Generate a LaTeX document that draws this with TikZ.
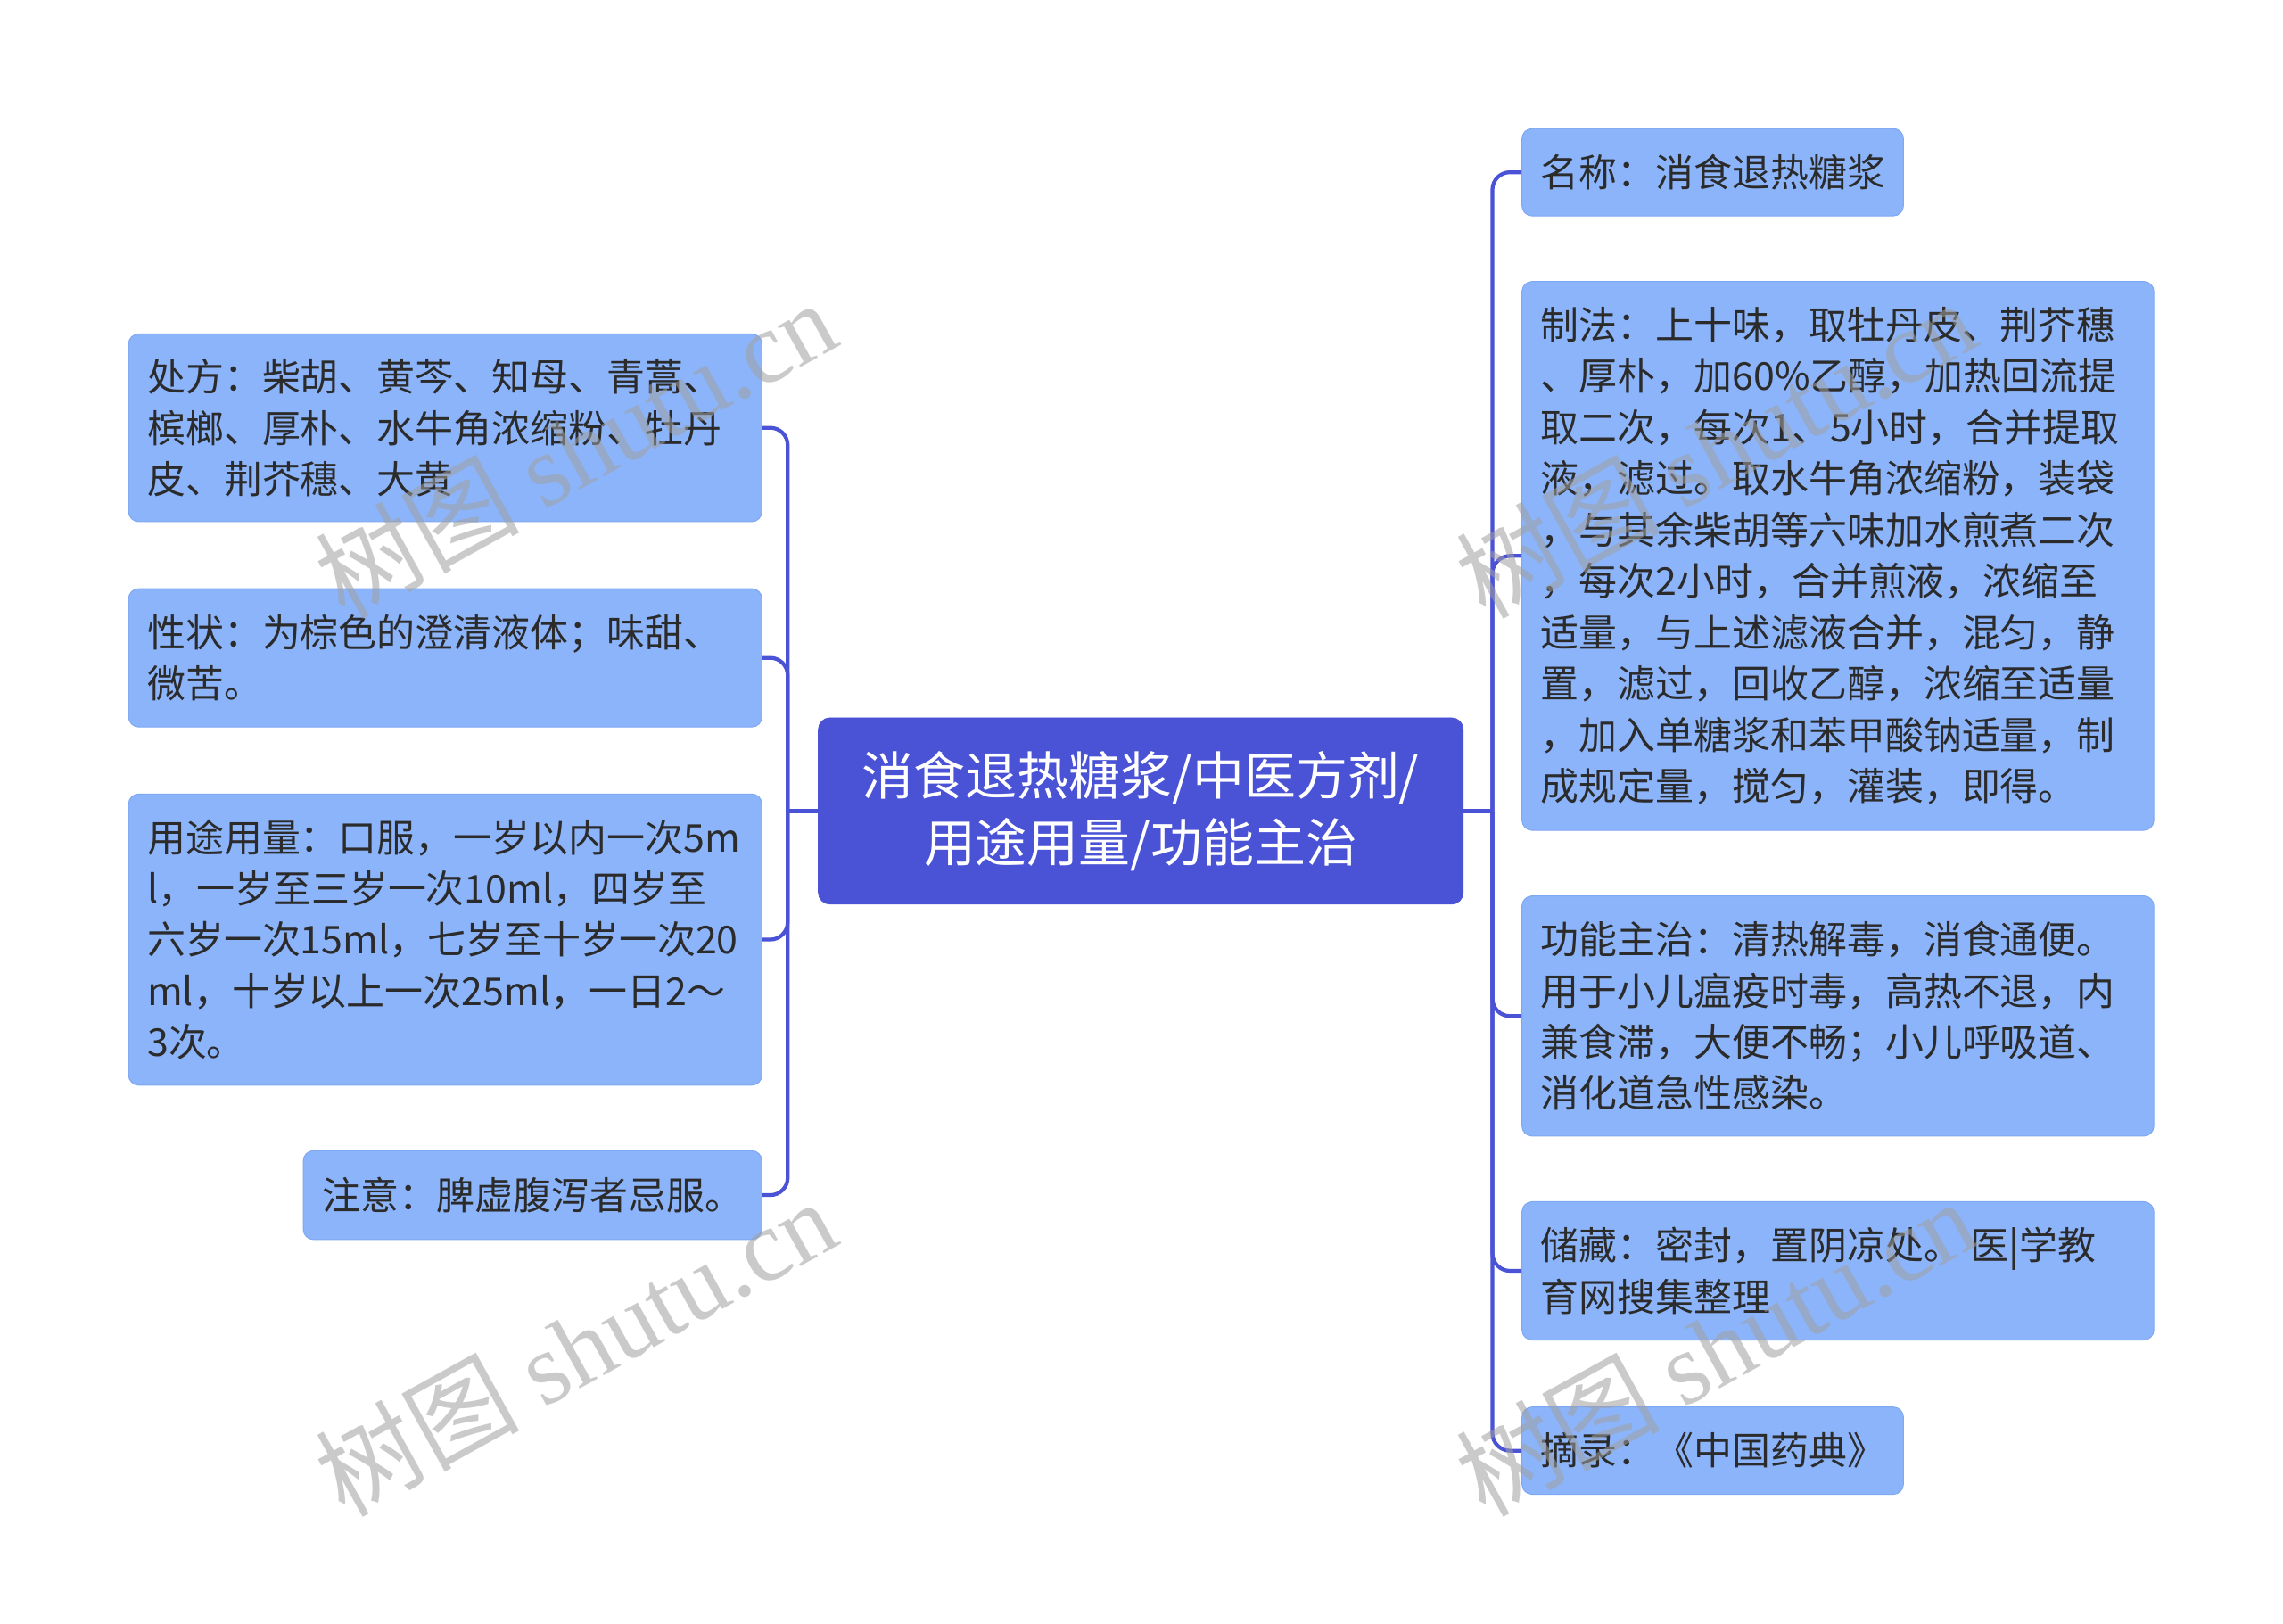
\documentclass[tikz,border=0pt]{standalone}
\usepackage{fontspec}
\setmainfont{Noto Sans CJK SC}
\newfontfamily\cjkfont{Noto Sans CJK SC}
\newfontfamily\wmserif{Liberation Serif}
\definecolor{centerblue}{HTML}{4A52D6}
\definecolor{leafblue}{HTML}{8CB4FA}
\definecolor{leafedge}{HTML}{7FA8F2}
\definecolor{linec}{HTML}{4A52D6}
\definecolor{txt}{HTML}{2B2B2B}
\definecolor{wmcol}{HTML}{A0A0A0}
\begin{document}
\begin{tikzpicture}[x=1pt,y=-1pt,
  leafbox/.style={rectangle, rounded corners=7pt, fill=leafblue, draw=leafedge, line width=0.6pt, inner sep=0pt, anchor=north west},
  leaftext/.style={anchor=west, align=left, inner sep=0pt, text=txt, font=\fontsize{26.3}{35.2}\selectfont},
  centerbox/.style={rectangle, rounded corners=8pt, fill=centerblue, draw=centerblue, text=white, align=center, inner sep=0pt, font=\fontsize{35.5}{46}\selectfont},
  conn/.style={draw=linec, line width=2.6pt},
  branch/.style={conn, rounded corners=12pt},
  wmark/.style={text=wmcol, opacity=0.55, rotate=29, inner sep=0pt, font=\fontsize{70}{70}\selectfont}
]
\useasboundingbox[fill=white] (0,0) rectangle (1568,1115);

% central node
\node[centerbox, minimum width=443pt, minimum height=128pt] (root) at (783.5,557) {消食退热糖浆/中医方剂/\\用途用量/功能主治};

% left boxes
\node[leafbox, minimum width=435pt, minimum height=129pt] (chufang) at (88,229) {};
\node[leaftext] (chufangT) at ([xshift=13pt]chufang.west) {处方：柴胡、黄芩、知母、青蒿、\\槟榔、厚朴、水牛角浓缩粉、牡丹\\皮、荆芥穗、大黄};

\node[leafbox, minimum width=435pt, minimum height=95pt] (xingzhuang) at (88,404) {};
\node[leaftext] (xingzhuangT) at ([xshift=13pt]xingzhuang.west) {性状：为棕色的澄清液体；味甜、\\微苦。};

\node[leafbox, minimum width=435pt, minimum height=200pt] (yongtu) at (88,545) {};
\node[leaftext] (yongtuT) at ([xshift=13pt]yongtu.west) {用途用量：口服，一岁以内一次5m\\l，一岁至三岁一次10ml，四岁至\\六岁一次15ml，七岁至十岁一次20\\ml，十岁以上一次25ml，一日2～\\3次。};

\node[leafbox, minimum width=315pt, minimum height=61pt] (zhuyi) at (208,790) {};
\node[leaftext] (zhuyiT) at ([xshift=13pt]zhuyi.west) {注意：脾虚腹泻者忌服。};

% right boxes
\node[leafbox, minimum width=262pt, minimum height=60pt] (mingcheng) at (1045,88) {};
\node[leaftext] (mingchengT) at ([xshift=13pt]mingcheng.west) {名称：消食退热糖浆};

\node[leafbox, minimum width=434pt, minimum height=377pt] (zhifa) at (1045,193) {};
\node[leaftext] (zhifaT) at ([xshift=13pt]zhifa.west) {制法：上十味，取牡丹皮、荆芥穗\\、厚朴，加60\%乙醇，加热回流提\\取二次，每次1、5小时，合并提取\\液，滤过。取水牛角浓缩粉，装袋\\，与其余柴胡等六味加水煎煮二次\\，每次2小时，合并煎液，浓缩至\\适量，与上述滤液合并，混匀，静\\置，滤过，回收乙醇，浓缩至适量\\，加入单糖浆和苯甲酸钠适量，制\\成规定量，搅匀，灌装，即得。};

\node[leafbox, minimum width=434pt, minimum height=165pt] (gongneng) at (1045,615) {};
\node[leaftext] (gongnengT) at ([xshift=13pt]gongneng.west) {功能主治：清热解毒，消食通便。\\用于小儿瘟疫时毒，高热不退，内\\兼食滞，大便不畅；小儿呼吸道、\\消化道急性感染。};

\node[leafbox, minimum width=434pt, minimum height=95pt] (chucang) at (1045,825) {};
\node[leaftext] (chucangT) at ([xshift=13pt]chucang.west) {储藏：密封，置阴凉处。 医|学教\\育网搜集整理};

\node[leafbox, minimum width=262pt, minimum height=60pt] (zhailu) at (1045,966) {};
\node[leaftext] (zhailuT) at ([xshift=13pt]zhailu.west) {摘录：《中国药典》};

% connectors
\coordinate (lj) at (541,557);
\coordinate (rj) at (1025,557);
\draw[conn] (root.west) -- (lj);
\draw[conn] (root.east) -- (rj);
\draw[branch] (lj) |- (chufang.east);
\draw[branch] (lj) |- (xingzhuang.east);
\draw[branch] (lj) |- (yongtu.east);
\draw[branch] (lj) |- (zhuyi.east);
\draw[branch] (rj) |- (mingcheng.west);
\draw[branch] (rj) |- (zhifa.west);
\draw[branch] (rj) |- (gongneng.west);
\draw[branch] (rj) |- (chucang.west);
\draw[branch] (rj) |- (zhailu.west);

% watermarks
\node[wmark] (wm1) at (395,308) {{\cjkfont 树图} {\wmserif shutu.cn}};
\node[wmark] (wm2) at (395,925) {{\cjkfont 树图} {\wmserif shutu.cn}};
\node[wmark] (wm3) at (1178,308) {{\cjkfont 树图} {\wmserif shutu.cn}};
\node[wmark] (wm4) at (1178,925) {{\cjkfont 树图} {\wmserif shutu.cn}};
\end{tikzpicture}
\end{document}
